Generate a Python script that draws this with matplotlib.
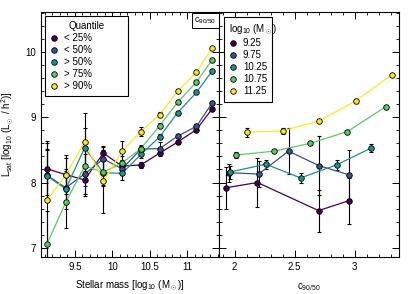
import numpy as np
import matplotlib.pyplot as plt
from matplotlib.lines import Line2D
from matplotlib.ticker import MultipleLocator

plt.rcParams['font.family'] = ['Liberation Sans', 'DejaVu Sans']
plt.rcParams['mathtext.fontset'] = 'custom'
plt.rcParams['mathtext.rm'] = 'Liberation Sans'
plt.rcParams['mathtext.it'] = 'Liberation Sans'
plt.rcParams['font.size'] = 7

colors = ['#440154', '#3b528b', '#21918c', '#5ec962', '#fde725']

# left panel: L_sat vs stellar mass, by c90/50 quantile
quantiles = ['< 25%', '< 50%', '> 50%', '> 75%', '> 90%']
mass = [9.13, 9.38, 9.63, 9.88, 10.13, 10.38, 10.63, 10.87, 11.12, 11.33]
lsat_q = [
    [8.21, 8.12, 8.04, 8.45, 8.25, 8.27, 8.45, 8.62, 8.81, 9.13],
    [8.11, 7.92, 8.13, 8.36, 8.21, 8.51, 8.52, 8.71, 8.86, 9.22],
    [8.10, 7.90, 8.53, 8.15, 8.14, 8.43, 8.70, 9.07, 9.38, 9.71],
    [7.06, 7.70, 8.25, 8.16, 8.30, 8.52, 8.87, 9.23, 9.54, 9.88],
    [7.73, 8.12, 8.62, 8.02, 8.48, 8.78, 9.04, 9.40, 9.69, 10.06],
]
err_q = [
    [0.40, 0.25, 0.25, 0.10, 0.10, 0.05, 0.04, 0.03, 0.03, 0.03],
    [0.40, 0.25, 0.30, 0.20, 0.10, 0.05, 0.10, 0.03, 0.03, 0.03],
    [0.40, 0.30, 0.30, 0.20, 0.10, 0.05, 0.04, 0.03, 0.03, 0.03],
    [0.50, 0.40, 0.30, 0.20, 0.10, 0.05, 0.04, 0.03, 0.03, 0.03],
    [0.90, 0.30, 0.45, 0.48, 0.15, 0.07, 0.04, 0.03, 0.03, 0.03],
]

# right panel: L_sat vs c90/50, by stellar mass bin
mass_bins = ['9.25', '9.75', '10.25', '10.75', '11.25']
conc = [
    [1.93, 2.19, 2.70, 2.95],
    [1.95, 2.20, 2.45, 2.70, 2.95],
    [1.96, 2.26, 2.55, 2.85, 3.14],
    [2.01, 2.33, 2.63, 2.94, 3.26],
    [2.10, 2.40, 2.70, 3.01, 3.31],
]
lsat_m = [
    [7.92, 8.00, 7.57, 7.72],
    [8.15, 8.13, 8.48, 8.26, 8.12],
    [8.16, 8.28, 8.07, 8.27, 8.53],
    [8.42, 8.48, 8.60, 8.78, 9.16],
    [8.77, 8.79, 8.94, 9.25, 9.65],
]
err_m = [
    [0.32, 0.38, 0.32, 0.35],
    [0.14, 0.20, 0.35, 0.45, 0.37],
    [0.10, 0.07, 0.08, 0.08, 0.06],
    [0.05, 0.03, 0.03, 0.03, 0.03],
    [0.07, 0.04, 0.03, 0.03, 0.03],
]

fig = plt.figure(figsize=(4.11, 2.94), dpi=100)
ax1 = fig.add_axes([0.0998, 0.1259, 0.4331, 0.8333])
ax2 = fig.add_axes([0.5328, 0.1259, 0.4380, 0.8333])


def draw(ax, xs, ys, es, cols):
    for x, y, e, c in zip(xs, ys, es, cols):
        ax.errorbar(x, y, yerr=e, fmt='none', ecolor='black', elinewidth=0.8,
                    capsize=1.5, capthick=0.8, zorder=1)
        ax.plot(x, y, '-', color=c, lw=0.9, zorder=2)
        ax.plot(x, y, 'o', color=c, ms=4, mec='black', mew=0.6, zorder=3)


draw(ax1, [mass] * 5, lsat_q, err_q, colors)
draw(ax2, conc, lsat_m, err_m, colors)

for ax in (ax1, ax2):
    ax.set_ylim(6.86, 10.61)
    ax.yaxis.set_major_locator(MultipleLocator(1))
    ax.yaxis.set_minor_locator(MultipleLocator(0.2))
    ax.xaxis.set_minor_locator(MultipleLocator(0.1))
    ax.tick_params(which='both', direction='in', top=True, right=True, labelsize=7)
    ax.tick_params(which='major', length=5, width=0.7)
    ax.tick_params(which='minor', length=2.5, width=0.6)
    for s in ax.spines.values():
        s.set_linewidth(0.8)

ax1.set_xlim(9.05, 11.42)
ax1.set_xticks([9.5, 10, 10.5, 11])
ax1.set_xticklabels(['9.5', '10', '10.5', '11'])
ax1.set_xlabel(r'Stellar mass [log$_{10}$ (M$_\odot$)]', fontsize=7, labelpad=5)
ax1.set_ylabel(r'L$_{\rm sat}$ [log$_{10}$ (L$_\odot$ / h$^2$)]', fontsize=7, labelpad=7)
ax1.text(0.985, 0.985, r'c$_{90/50}$', transform=ax1.transAxes, ha='right', va='top',
         fontsize=6.5, bbox=dict(boxstyle='square,pad=0.25', fc='white', ec='black', lw=0.7))

ax2.set_xlim(1.87, 3.37)
ax2.set_xticks([2, 2.5, 3])
ax2.set_xticklabels(['2', '2.5', '3'])
ax2.set_yticklabels([])
ax2.set_xlabel(r'c$_{90/50}$', fontsize=7, labelpad=7)


def handles(cols):
    return [Line2D([], [], ls='none', marker='o', color=c, ms=4, mec='black', mew=0.6)
            for c in cols]


for ax, labels, title, box in ((ax1, quantiles, 'Quantile', (0.022, 0.60, 0.466, 0.384)),
                               (ax2, mass_bins, r'log$_{10}$ (M$_\odot$)',
                                (0.028, 0.60, 0.267, 0.38))):
    leg = ax.legend(handles(colors), labels, title=title, loc='upper left',
                    bbox_to_anchor=box, mode='expand', borderaxespad=0,
                    fontsize=7, title_fontsize=7, frameon=True, fancybox=False,
                    framealpha=1, edgecolor='black', handlelength=0.8,
                    handletextpad=0.6, labelspacing=0.2, borderpad=0.55)
    leg.get_frame().set_linewidth(0.8)
    leg._legend_box.align = 'left' if ax is ax2 else 'center'

fig.savefig('out.png', dpi=100)
